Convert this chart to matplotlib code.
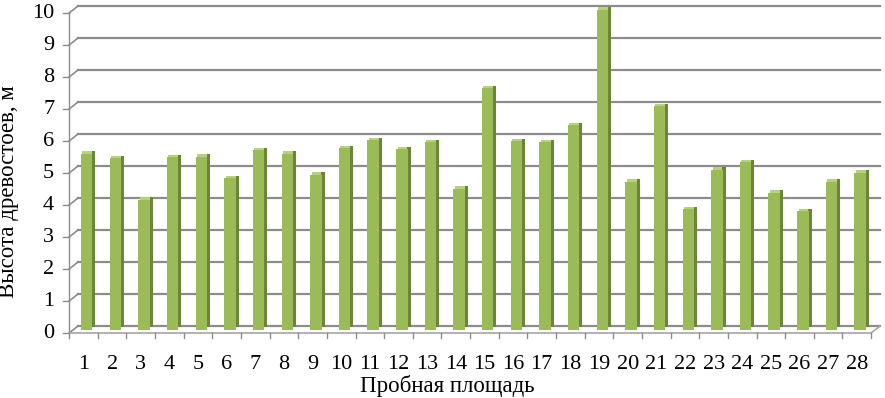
import numpy as np
import matplotlib.pyplot as plt

plt.rcParams["font.family"] = ["Liberation Serif", "DejaVu Serif"]

# Данные: пробные площади и высота древостоев
plots = list(range(1, 29))
heights = [5.5, 5.35, 4.06, 5.38, 5.4, 4.72, 5.6, 5.5, 4.84, 5.66,
           5.91, 5.63, 5.85, 4.4, 7.55, 5.88, 5.85, 6.38, 10.0, 4.62,
           6.98, 3.77, 5.0, 5.22, 4.28, 3.71, 4.62, 4.9]
y_ticks = list(range(0, 11))
x_title = "Пробная площадь"
y_title = "Высота древостоев, м"

# Сдвиг "передней" плоскости (псевдо-3D)
DX, DY = 0.31, 0.22
GRID = "#8c8c8c"

fig = plt.figure(figsize=(8.85, 3.98), dpi=100)
ax = fig.add_axes([78 / 885, 72 / 398, 802 / 885, 320 / 398])
ax.set_xlim(-0.5, len(plots) - 0.5)
ax.set_ylim(0, 10)
ax.axis("off")

x = np.arange(len(plots))
h = np.array(heights)
xl, xr = -0.5, len(plots) - 0.5

# Сетка на задней стенке + диагонали к оси
for v in y_ticks:
    ax.plot([xl, xr], [v, v], color=GRID, lw=1.6, zorder=1, clip_on=False)
    ax.plot([xl - DX, xl], [v - DY, v], color=GRID, lw=1.2, zorder=1, clip_on=False)
    ax.plot([xl - DX - 0.2, xl - DX], [v - DY, v - DY], color=GRID, lw=1.0, clip_on=False)
    ax.text(xl - DX - 0.52, v - DY, str(v), ha="right", va="center",
            fontsize=16, clip_on=False)

# Передняя ось Y
ax.plot([xl - DX, xl - DX], [-DY, 10 - DY], color=GRID, lw=1.0, clip_on=False)

# Пол: передняя кромка и правая диагональ
ax.plot([xl - DX, xr - DX], [-DY, -DY], color="#a6a6a6", lw=1.2, clip_on=False)
ax.plot([xr - DX, xr], [-DY, 0], color="#a6a6a6", lw=1.2, clip_on=False)
for i in range(len(plots) + 1):
    ax.plot([i - 0.5 - DX, i - 0.5 - DX], [-DY, -DY - 0.17], color=GRID,
            lw=1.0, clip_on=False)

# Столбцы: верх, боковая грань, лицевая грань
bx = x - DX / 2 - 0.04
ax.bar(bx + 0.05, 0.07, bottom=h - DY / 2, width=0.4, color="#b7cf86",
       zorder=3, clip_on=False)
ax.bar(bx + 0.25, h, bottom=-DY / 2 + 0.07, width=0.11, color="#6b8638",
       zorder=3, clip_on=False)
ax.bar(bx, h, bottom=-DY / 2, width=0.4, color="#9bbb59", zorder=4,
       clip_on=False)

# Подписи категорий
for xi, p in zip(x, plots):
    ax.text(xi - DX, -DY - 0.97, str(p), ha="center", va="center",
            fontsize=16, clip_on=False)

fig.text(447 / 885, 1 - 386 / 398, x_title, ha="center", va="center", fontsize=16.5)
fig.text(9 / 885, 1 - 192 / 398, y_title, ha="center", va="center",
         rotation=90, fontsize=16.5)

fig.savefig("out.png", dpi=100)
